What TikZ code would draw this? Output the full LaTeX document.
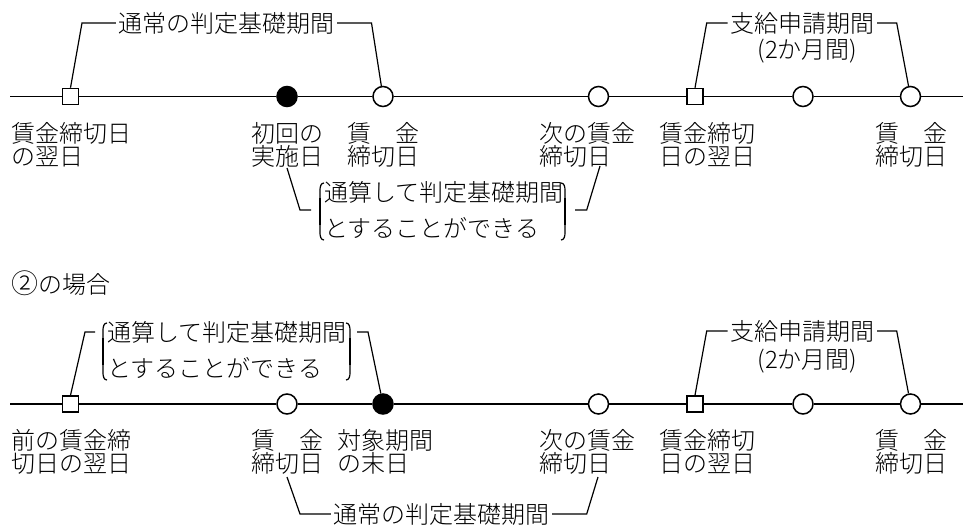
\documentclass[tikz,border=0pt]{standalone}
\usepackage{fontspec}
\IfFontExistsTF{Noto Sans CJK JP Light}{\setmainfont{Noto Sans CJK JP Light}}{\setmainfont{Noto Sans CJK JP}}
\begin{document}
\begin{tikzpicture}[x=1pt,y=-1pt,
  every node/.style={inner sep=0pt},
  ln/.style={line width=1.2pt},
  thk/.style={line width=2.2pt},
  circ/.style={circle,draw,line width=1.5pt,fill=white,minimum size=20pt,inner sep=0pt},
  dot/.style={circle,draw,line width=1.5pt,fill=black,minimum size=20pt,inner sep=0pt},
  sqr/.style={rectangle,draw,line width=1.5pt,fill=white,minimum size=16pt,inner sep=0pt},
  lab/.style={align=left,anchor=west,font=\fontsize{24}{23}\selectfont},
  txt/.style={font=\fontsize{24}{28}\selectfont,inner sep=2.5pt},
  big/.style={align=left,anchor=west,font=\fontsize{24}{35.5}\selectfont},
]
\useasboundingbox (0,0) rectangle (963,529);

% ---------- Row 1 ----------
\coordinate (s1) at (10,96.5);
\coordinate (e1) at (963,96.5);
\node[sqr]  (p1) at (70.5,96.5) {};
\node[dot]  (p2) at (287,96.5) {};
\node[circ] (p3) at (383,96.5) {};
\node[circ] (p4) at (598.5,96.5) {};
\node[sqr]  (p5) at (695,96.5) {};
\node[circ] (p6) at (803,96.5) {};
\node[circ] (p7) at (910.5,96.5) {};
\draw[ln] (s1) -- (p1) -- (p2) -- (p3) -- (p4) -- (p5) -- (p6) -- (p7) -- (e1);

\node[txt] (t1) at (226.5,23) {通常の判定基礎期間};
\coordinate (c1) at (82,23);
\coordinate (c2) at (371.5,23);
\draw[ln] (p1.north) -- (c1) -- (t1.west);
\draw[ln] (t1.east) -- (c2) -- (p3);

\node[txt] (t2) at (802.3,23) {支給申請期間};
\node[txt] (t3) at (807.5,51) {(2か月間)};
\coordinate (c3) at (706.7,23);
\coordinate (c4) at (896.7,23);
\draw[ln] (p5.north) -- (c3) -- (t2.west);
\draw[ln] (t2.east) -- (c4) -- (p7);

\node[lab] (l1) at (11,144.5) {賃金締切日\\の翌日};
\node[lab] (l2) at (251,144.5) {初回の\\実施日};
\node[lab] (l3) at (347,144.5) {賃　金\\締切日};
\node[lab] (l4) at (539,144.5) {次の賃金\\締切日};
\node[lab] (l5) at (659,144.5) {賃金締切\\日の翌日};
\node[lab] (l6) at (875,144.5) {賃　金\\締切日};

\node[big] (m1) at (324,210) {通算して判定基礎期間\\とすることができる};
\draw[ln] (324,183) to[out=180,in=90] (320,190) -- (320,233) to[out=-90,in=180] (324,240);
\draw[thk] (320,198) -- (320,225);
\draw[ln] (561,183) to[out=0,in=90] (565,190) -- (565,233) to[out=-90,in=0] (561,240);
\draw[thk] (565,198) -- (565,225);
\coordinate (s2) at (287,168);
\coordinate (k2) at (300,210);
\coordinate (k3) at (311,210);
\coordinate (k4) at (575,210);
\coordinate (k5) at (586.7,210);
\coordinate (s3) at (600,166);
\draw[ln] (s2) -- (k2) -- (k3);
\draw[ln] (k4) -- (k5) -- (s3);

% ---------- heading ----------
\node[anchor=west,font=\fontsize{24}{28}\selectfont] (h) at (11,283) {\raisebox{0pt}{\fontsize{27}{28}\selectfont ②}の場合};

% ---------- Row 2 ----------
\coordinate (s5) at (10,404);
\coordinate (e5) at (963,404);
\node[sqr]  (q1) at (70.5,404) {};
\node[circ] (q2) at (287,404) {};
\node[dot]  (q3) at (383,404) {};
\node[circ] (q4) at (598.5,404) {};
\node[sqr]  (q5) at (695,404) {};
\node[circ] (q6) at (803,404) {};
\node[circ] (q7) at (910.5,404) {};
\draw[ln] (s5) -- (q1) -- (q2) -- (q3) -- (q4) -- (q5) -- (q6) -- (q7) -- (e5);

\node[big] (m2) at (107,350) {通算して判定基礎期間\\とすることができる};
\draw[ln] (107,323) to[out=180,in=90] (103,330) -- (103,373) to[out=-90,in=180] (107,380);
\draw[thk] (103,338) -- (103,365);
\draw[ln] (346,323) to[out=0,in=90] (350,330) -- (350,373) to[out=-90,in=0] (346,380);
\draw[thk] (350,338) -- (350,365);
\coordinate (d1) at (85,332);
\coordinate (d2) at (95,332);
\coordinate (d3) at (357,332);
\coordinate (d4) at (368,332);
\draw[ln] (q1.north) -- (d1) -- (d2);
\draw[ln] (d3) -- (d4) -- (q3);

\node[txt] (t5) at (802.3,331) {支給申請期間};
\node[txt] (t6) at (807.5,361) {(2か月間)};
\coordinate (c5) at (706.7,331);
\coordinate (c6) at (896.7,331);
\draw[ln] (q5.north) -- (c5) -- (t5.west);
\draw[ln] (t5.east) -- (c6) -- (q7);

\node[lab] (n1) at (11,452) {前の賃金締\\切日の翌日};
\node[lab] (n2) at (251,452) {賃　金\\締切日};
\node[lab] (n3) at (337,452) {対象期間\\の末日};
\node[lab] (n4) at (539,452) {次の賃金\\締切日};
\node[lab] (n5) at (659,452) {賃金締切\\日の翌日};
\node[lab] (n6) at (875,452) {賃　金\\締切日};

\node[txt] (t7) at (441.5,514) {通常の判定基礎期間};
\coordinate (s4) at (287,477);
\coordinate (k6) at (300,514);
\coordinate (k7) at (586.7,514);
\coordinate (s6) at (598,477);
\draw[ln] (s4) -- (k6) -- (t7.west);
\draw[ln] (t7.east) -- (k7) -- (s6);
\end{tikzpicture}
\end{document}
